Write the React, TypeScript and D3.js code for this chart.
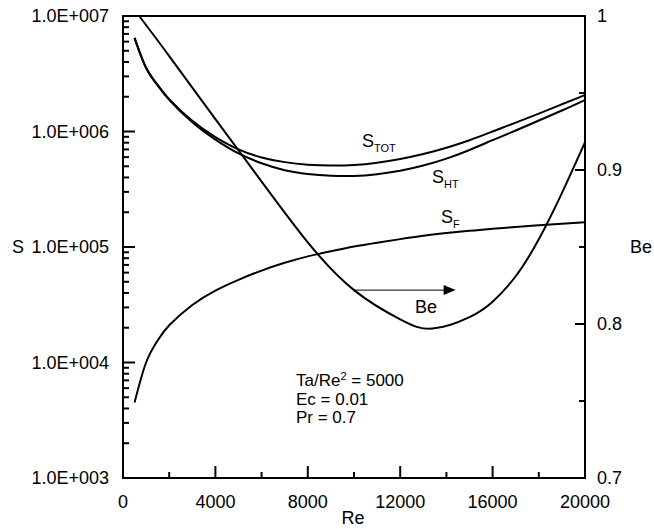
import React from 'react';
import * as d3 from 'd3';

// Reynolds numbers for the entropy curves
const reS = [500, 1000, 1500, 2000, 3000, 4000, 5000, 6000, 7000, 8000, 9000, 10000,
  11000, 12000, 13000, 14000, 15000, 16000, 17000, 18000, 19000, 20000];
const sTot = [6.46e6, 3.56e6, 2.53e6, 1.905e6, 1.236e6, 8.95e5, 7.0e5, 5.96e5, 5.43e5, 5.16e5, 5.07e5, 5.13e5,
  5.37e5, 5.78e5, 6.38e5, 7.24e5, 8.41e5, 1.0e6, 1.194e6, 1.43e6, 1.72e6, 2.07e6];
const sHt = [6.46e6, 3.55e6, 2.51e6, 1.88e6, 1.2e6, 8.51e5, 6.46e5, 5.31e5, 4.62e5, 4.29e5, 4.14e5, 4.12e5,
  4.27e5, 4.57e5, 5.07e5, 5.82e5, 6.92e5, 8.41e5, 1.02e6, 1.245e6, 1.52e6, 1.875e6];
const sF = [4.5e3, 1.0e4, 1.55e4, 2.1e4, 3.15e4, 4.2e4, 5.2e4, 6.25e4, 7.3e4, 8.3e4, 9.2e4, 1.01e5,
  1.09e5, 1.17e5, 1.25e5, 1.32e5, 1.38e5, 1.44e5, 1.49e5, 1.54e5, 1.59e5, 1.64e5];

// Bejan number curve
const reBe = [700, 2000, 4000, 6000, 8000, 10000, 12000, 13400, 15000, 16000, 17000, 18000, 19000, 20000];
const be = [1.0, 0.974, 0.933, 0.8925, 0.853, 0.822, 0.803, 0.797, 0.8045, 0.8145, 0.831, 0.855, 0.885, 0.918];

const xTicks = [0, 4000, 8000, 12000, 16000, 20000];
const xMinor = [2000, 6000, 10000, 14000, 18000];
const sTicks = [1e3, 1e4, 1e5, 1e6, 1e7];
const sTickLabels = ['1.0E+003', '1.0E+004', '1.0E+005', '1.0E+006', '1.0E+007'];
const beTicks = [0.7, 0.8, 0.9, 1];
const beTickLabels = ['0.7', '0.8', '0.9', '1'];
const beMinor = [0.75, 0.85, 0.95];

const font = '"Liberation Sans", Arial, sans-serif';

export default function App() {
  const left = 123, right = 585, top = 16, bottom = 478;
  const x = d3.scaleLinear().domain([0, 20000]).range([left, right]);
  const yS = d3.scaleLog().domain([1e3, 1e7]).range([bottom, top]);
  const yBe = d3.scaleLinear().domain([0.7, 1]).range([bottom, top]);

  const lineS = (vals: number[]) =>
    d3.line<number>().x((_, i) => x(reS[i])).y((d) => yS(d)).curve(d3.curveNatural)(vals) || '';
  const beLine = d3.line<number>().x((_, i) => x(reBe[i])).y((d) => yBe(d)).curve(d3.curveNatural)(be) || '';

  const sMinor: number[] = [];
  [1e3, 1e4, 1e5, 1e6].forEach((dec) => {
    for (let k = 2; k <= 9; k++) sMinor.push(dec * k);
  });

  const arrowY = yBe(0.822);
  const ax0 = x(10000), ax1 = x(14400);

  return (
    <svg width={654} height={529} style={{ display: 'block', position: 'absolute', left: 0, top: 0 }}
      fontFamily={font}>
      <rect width={654} height={529} fill="#fff" />
      <g stroke="#000" fill="none">
        <path d={lineS(sF)} strokeWidth={2} />
        <path d={lineS(sHt)} strokeWidth={2} />
        <path d={lineS(sTot)} strokeWidth={2} />
        <path d={beLine} strokeWidth={2} />
      </g>

      {/* frame */}
      <rect x={left} y={top} width={right - left} height={bottom - top} fill="none" stroke="#000" strokeWidth={2} />

      {/* left axis ticks */}
      {sTicks.map((t, i) => (
        <g key={'s' + t}>
          <line x1={left} x2={left + 12} y1={yS(t)} y2={yS(t)} stroke="#000" strokeWidth={2} />
          <text x={109} y={yS(t)} dy="0.36em" textAnchor="end" fontSize={18}>{sTickLabels[i]}</text>
        </g>
      ))}
      {sMinor.map((t) => (
        <line key={'sm' + t} x1={left} x2={left + 6} y1={yS(t)} y2={yS(t)} stroke="#000" strokeWidth={2} />
      ))}

      {/* right axis ticks */}
      {beTicks.map((t, i) => (
        <g key={'b' + t}>
          <line x1={right - 10} x2={right} y1={yBe(t)} y2={yBe(t)} stroke="#000" strokeWidth={2} />
          <text x={597} y={yBe(t)} dy="0.36em" fontSize={18}>{beTickLabels[i]}</text>
        </g>
      ))}
      {beMinor.map((t) => (
        <line key={'bm' + t} x1={right - 6} x2={right} y1={yBe(t)} y2={yBe(t)} stroke="#000" strokeWidth={2} />
      ))}

      {/* bottom axis ticks */}
      {xTicks.map((t) => (
        <g key={'x' + t}>
          <line x1={x(t)} x2={x(t)} y1={bottom} y2={bottom - 12} stroke="#000" strokeWidth={2} />
          <text x={x(t)} y={508} textAnchor="middle" fontSize={18}>{t}</text>
        </g>
      ))}
      {xMinor.map((t) => (
        <line key={'xm' + t} x1={x(t)} x2={x(t)} y1={bottom} y2={bottom - 6} stroke="#000" strokeWidth={2} />
      ))}

      {/* axis titles */}
      <text x={353} y={524} textAnchor="middle" fontSize={18}>Re</text>
      <text x={12} y={247} dy="0.36em" fontSize={18}>S</text>
      <text x={630} y={247} dy="0.36em" fontSize={18}>Be</text>

      {/* curve labels */}
      <text x={362} y={147} fontSize={18}>S<tspan fontSize={11} dy={5}>TOT</tspan></text>
      <text x={432} y={183} fontSize={18}>S<tspan fontSize={11} dy={5}>HT</tspan></text>
      <text x={441} y={223} fontSize={18}>S<tspan fontSize={11} dy={5}>F</tspan></text>

      {/* Be arrow */}
      <line x1={ax0} x2={ax1 - 10} y1={arrowY} y2={arrowY} stroke="#000" strokeWidth={1} />
      <path d={`M${ax1},${arrowY} L${ax1 - 12},${arrowY - 5} L${ax1 - 12},${arrowY + 5} Z`} fill="#000" />
      <text x={426} y={313} textAnchor="middle" fontSize={18}>Be</text>

      {/* parameters */}
      <text x={296} y={386} fontSize={17}>Ta/Re<tspan fontSize={11} dy={-6}>2</tspan><tspan dy={6}> = 5000</tspan></text>
      <text x={296} y={405} fontSize={17}>Ec = 0.01</text>
      <text x={296} y={423} fontSize={17}>Pr = 0.7</text>
    </svg>
  );
}
